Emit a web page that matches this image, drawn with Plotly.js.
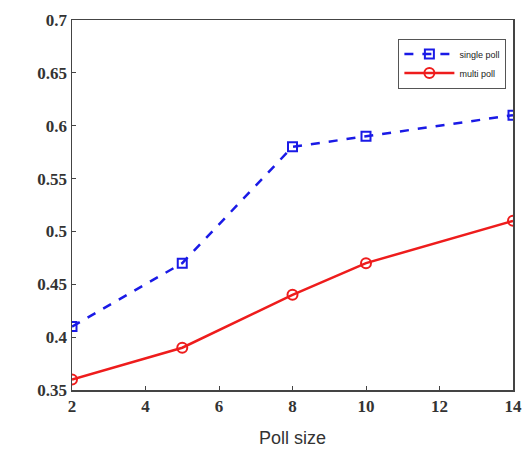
<!DOCTYPE html>
<html><head><meta charset="utf-8">
<script src="https://cdn.plot.ly/plotly-3.0.1.min.js"></script>
<style>html,body{margin:0;padding:0;background:#fff}</style>
</head><body>
<div id="chart" style="width:526px;height:450px"></div>
<script>
const pollSize = [2, 5, 8, 10, 14];
const singlePoll = [0.41, 0.47, 0.58, 0.59, 0.61];
const multiPoll = [0.36, 0.39, 0.44, 0.47, 0.51];
const xTicks = [2, 4, 6, 8, 10, 12, 14];
const yTicks = [0.35, 0.4, 0.45, 0.5, 0.55, 0.6, 0.65, 0.7];
const yTickText = ['0.35', '0.4', '0.45', '0.5', '0.55', '0.6', '0.65', '0.7'];

const traces = [
  {x: pollSize, y: singlePoll, name: 'single poll', mode: 'lines+markers',
   line: {color: '#1a1ae6', width: 2.5, dash: 'dash'},
   marker: {symbol: 'square-open', size: 9, color: '#1a1ae6', line: {width: 2}}},
  {x: pollSize, y: multiPoll, name: 'multi poll', mode: 'lines+markers',
   line: {color: '#ee1c1c', width: 2.5},
   marker: {symbol: 'circle-open', size: 10, color: '#ee1c1c', line: {width: 2}}}
];

const tickFont = {family: 'Liberation Serif', size: 17, weight: 'bold', color: '#333'};
const layout = {
  width: 526, height: 450,
  margin: {l: 72, r: 13, t: 20, b: 60},
  paper_bgcolor: '#fff', plot_bgcolor: '#fff',
  showlegend: true,
  legend: {x: 0.985, y: 0.95, xanchor: 'right', yanchor: 'top',
    bordercolor: '#555', borderwidth: 1, bgcolor: '#fff',
    font: {family: 'Liberation Sans', size: 9, color: '#222'},
    itemwidth: 50, tracegroupgap: 0},
  xaxis: {range: [2, 14], tickvals: xTicks, ticktext: xTicks.map(String),
    ticks: 'inside', ticklen: 4, tickcolor: '#444', mirror: true,
    showline: true, linecolor: '#444', linewidth: 1.5, showgrid: false, zeroline: false,
    tickfont: tickFont,
    title: {text: 'Poll size', font: {family: 'Liberation Sans', size: 18, color: '#333'}, standoff: 16}},
  yaxis: {range: [0.35, 0.7], tickvals: yTicks, ticktext: yTickText,
    ticks: 'inside', ticklen: 4, tickcolor: '#444', mirror: true,
    showline: true, linecolor: '#444', linewidth: 1.5, showgrid: false, zeroline: false,
    tickfont: tickFont}
};
Plotly.newPlot('chart', traces, layout, {displayModeBar: false, staticPlot: true});
</script>
</body></html>
